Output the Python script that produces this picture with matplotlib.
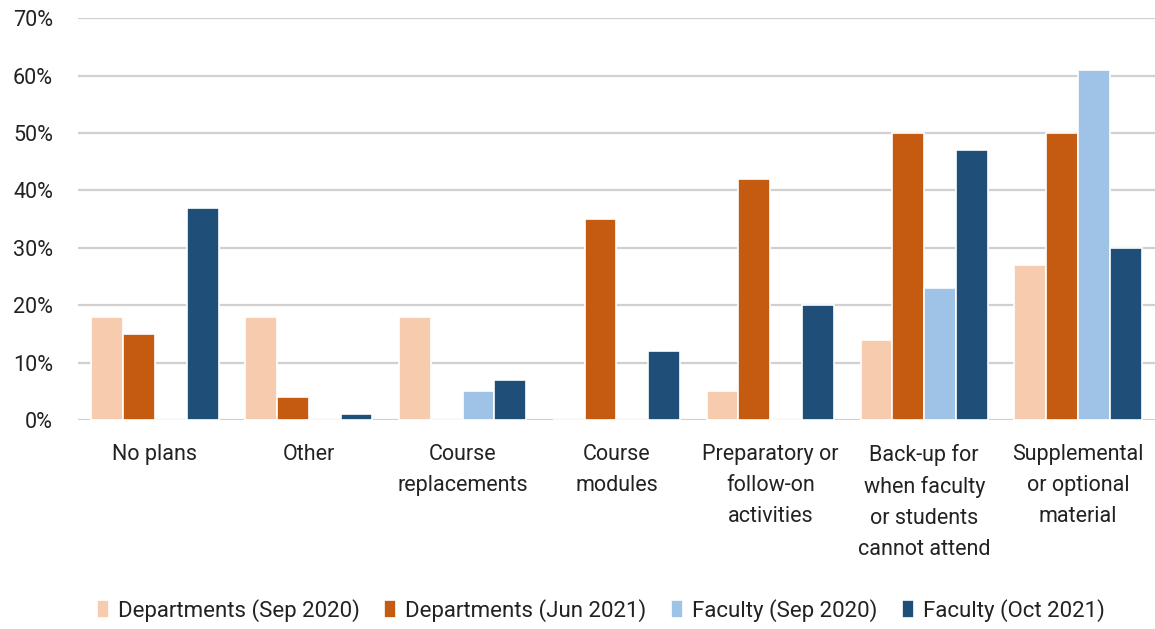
import numpy as np
import matplotlib
matplotlib.use('Agg')
import matplotlib.pyplot as plt

plt.rcParams['font.family'] = ['Roboto', 'DejaVu Sans']

categories = ['No plans', 'Other', 'Course\nreplacements', 'Course\nmodules',
              'Preparatory or\nfollow-on\nactivities',
              'Back-up for\nwhen faculty\nor students\ncannot attend',
              'Supplemental\nor optional\nmaterial']
series_names = ['Departments (Sep 2020)', 'Departments (Jun 2021)',
                'Faculty (Sep 2020)', 'Faculty (Oct 2021)']
dept_sep20 = [18, 18, 18, 0, 5, 14, 27]
dept_jun21 = [15, 4, 0, 35, 42, 50, 50]
fac_sep20 = [0, 0, 5, 0, 0, 23, 61]
fac_oct21 = [37, 1, 7, 12, 20, 47, 30]
colors = ['#F7CBAD', '#C55A11', '#9FC3E7', '#1F4E79']

fig = plt.figure(figsize=(11.55, 6.29), dpi=100)
ax = fig.add_axes([0.0675, 0.332, 0.9325, 0.639])

x = np.arange(len(categories))
w = 0.207
for i, vals in enumerate([dept_sep20, dept_jun21, fac_sep20, fac_oct21]):
    ax.bar(x + (i - 1.5) * w, vals, width=w, color=colors[i],
           edgecolor='white', linewidth=1.2, label=series_names[i], zorder=3)

ax.set_xlim(-0.5, len(categories) - 0.5)
ax.set_ylim(0, 70)
ax.set_yticks(range(0, 71, 10))
ax.set_yticklabels([f'{v}%' for v in range(0, 71, 10)])
ax.set_xticks(x)
ax.set_xticklabels(categories, linespacing=1.62, va='top')
ax.tick_params(axis='y', length=0, pad=18, labelsize=15.5, colors='#222222')
ax.tick_params(axis='x', length=0, pad=17, labelsize=15.5, colors='#222222')
ax.grid(axis='y', color='#D0D0D0', linewidth=1.6, zorder=0)
for s in ax.spines.values():
    s.set_visible(False)

fig.legend(loc='lower center', bbox_to_anchor=(0.52, -0.02), ncol=4,
           frameon=False, fontsize=16, handlelength=0.55, handleheight=0.9,
           handletextpad=0.4, columnspacing=1.1, labelcolor='#222222')

fig.savefig('out.png', dpi=100)
